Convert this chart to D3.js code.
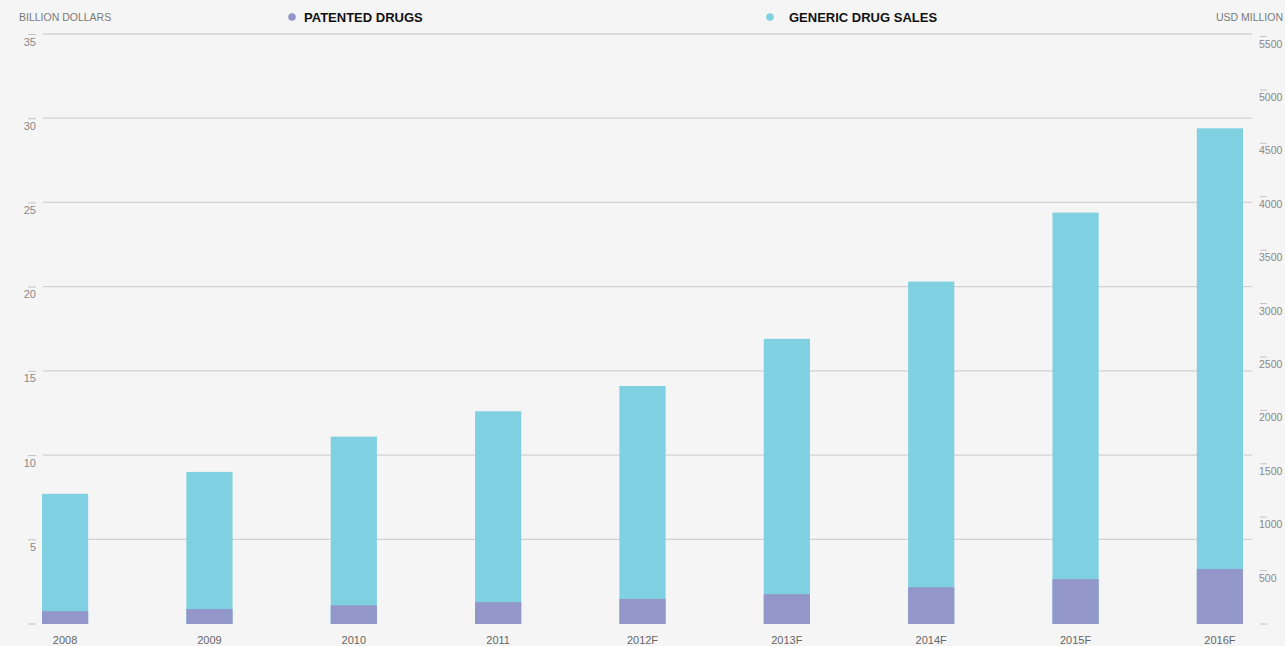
<!DOCTYPE html>
<html>
<head>
<meta charset="utf-8">
<script src="https://cdn.jsdelivr.net/npm/d3@7"></script>
<style>
  html, body { margin: 0; padding: 0; background: #f5f5f5; }
  svg { display: block; font-family: "Liberation Sans", Arial, sans-serif; }
</style>
</head>
<body>
<svg id="chart" width="1285" height="646"></svg>
<script>
// Years on the horizontal axis ("F" = forecast)
const years = ["2008", "2009", "2010", "2011", "2012F", "2013F", "2014F", "2015F", "2016F"];
// Generic drug sales, billion dollars (left axis)
const genericSales = [7.7, 9.0, 11.1, 12.6, 14.1, 16.9, 20.3, 24.4, 29.4];
// Patented drugs, USD million (right axis)
const patentedDrugs = [115, 135, 170, 200, 230, 275, 340, 415, 510];
// Axis ticks
const leftTicks = [0, 5, 10, 15, 20, 25, 30, 35];
const rightTicks = [0, 500, 1000, 1500, 2000, 2500, 3000, 3500, 4000, 4500, 5000, 5500];
// Legend entries
const legendItems = ["PATENTED DRUGS", "GENERIC DRUG SALES"];

const COLOR_GENERIC = "#7fd1e2";
const COLOR_PATENTED = "#9396c8";

const svg = d3.select("#chart");

const x = d3.scaleBand()
  .domain(years)
  .range([42, 1243])
  .paddingInner(0.68)
  .paddingOuter(0);

const yLeft = d3.scaleLinear().domain([0, 35]).range([623.5, 34]);
const yRight = d3.scaleLinear().domain([0, 5500]).range([623.5, 36]);

// Horizontal gridlines on the left scale
svg.append("g")
  .selectAll("line")
  .data(leftTicks.filter(d => d > 0))
  .join("line")
  .attr("x1", 43).attr("x2", 1252)
  .attr("y1", d => yLeft(d)).attr("y2", d => yLeft(d))
  .attr("stroke", "#d2d2d2")
  .attr("stroke-width", 1.3);

// Left axis
const gLeft = svg.append("g")
  .attr("transform", "translate(36,0)")
  .call(d3.axisLeft(yLeft).tickValues(leftTicks).tickSize(8).tickPadding(0).tickFormat(d => d === 0 ? "" : d));
gLeft.select(".domain").remove();
gLeft.selectAll(".tick line").attr("stroke", "#c4c4c4");
gLeft.selectAll(".tick text")
  .attr("x", 0).attr("dy", "1em")
  .attr("fill", "#888888")
  .style("font-size", "11px");

// Right axis
const gRight = svg.append("g")
  .attr("transform", "translate(1260,0)")
  .call(d3.axisRight(yRight).tickValues(rightTicks).tickSize(7).tickPadding(0).tickFormat(d => d === 0 ? "" : d));
gRight.select(".domain").remove();
gRight.selectAll(".tick line").attr("stroke", "#c4c4c4");
gRight.selectAll(".tick text")
  .attr("x", -1).attr("dy", "1.05em")
  .attr("fill", "#888888")
  .style("font-size", "10.5px");

// Bars: generic sales behind, patented drugs in front, both from zero
const bars = svg.append("g");
bars.selectAll("rect.generic")
  .data(years)
  .join("rect")
  .attr("class", "generic")
  .attr("x", d => x(d))
  .attr("width", x.bandwidth())
  .attr("y", (d, i) => yLeft(genericSales[i]))
  .attr("height", (d, i) => yLeft(0) - yLeft(genericSales[i]) + 0.5)
  .attr("fill", COLOR_GENERIC);

bars.selectAll("rect.patented")
  .data(years)
  .join("rect")
  .attr("class", "patented")
  .attr("x", d => x(d))
  .attr("width", x.bandwidth())
  .attr("y", (d, i) => yRight(patentedDrugs[i]))
  .attr("height", (d, i) => yRight(0) - yRight(patentedDrugs[i]) + 0.5)
  .attr("fill", COLOR_PATENTED);

// Category labels
svg.append("g")
  .selectAll("text")
  .data(years)
  .join("text")
  .attr("x", d => x(d) + x.bandwidth() / 2)
  .attr("y", 644)
  .attr("text-anchor", "middle")
  .attr("fill", "#666")
  .style("font-size", "11px")
  .text(d => d);

// Axis titles
svg.append("text")
  .attr("x", 19).attr("y", 21)
  .attr("fill", "#7a7a7a")
  .style("font-size", "10.5px")
  .text("BILLION DOLLARS");

svg.append("text")
  .attr("x", 1283).attr("y", 21)
  .attr("text-anchor", "end")
  .attr("fill", "#7a7a7a")
  .style("font-size", "10.5px")
  .text("USD MILLION");

// Legend
const legendX = [292, 770];
const legendColors = [COLOR_PATENTED, COLOR_GENERIC];
const lg = svg.append("g")
  .selectAll("g")
  .data(legendItems)
  .join("g")
  .attr("transform", (d, i) => `translate(${legendX[i]},17)`);
lg.append("circle")
  .attr("r", 3.8)
  .attr("fill", (d, i) => legendColors[i]);
lg.append("text")
  .attr("x", (d, i) => i === 0 ? 12 : 19)
  .attr("y", 5)
  .attr("fill", "#111")
  .style("font-size", "13px")
  .style("font-weight", "bold")
  .text(d => d);
</script>
</body>
</html>
